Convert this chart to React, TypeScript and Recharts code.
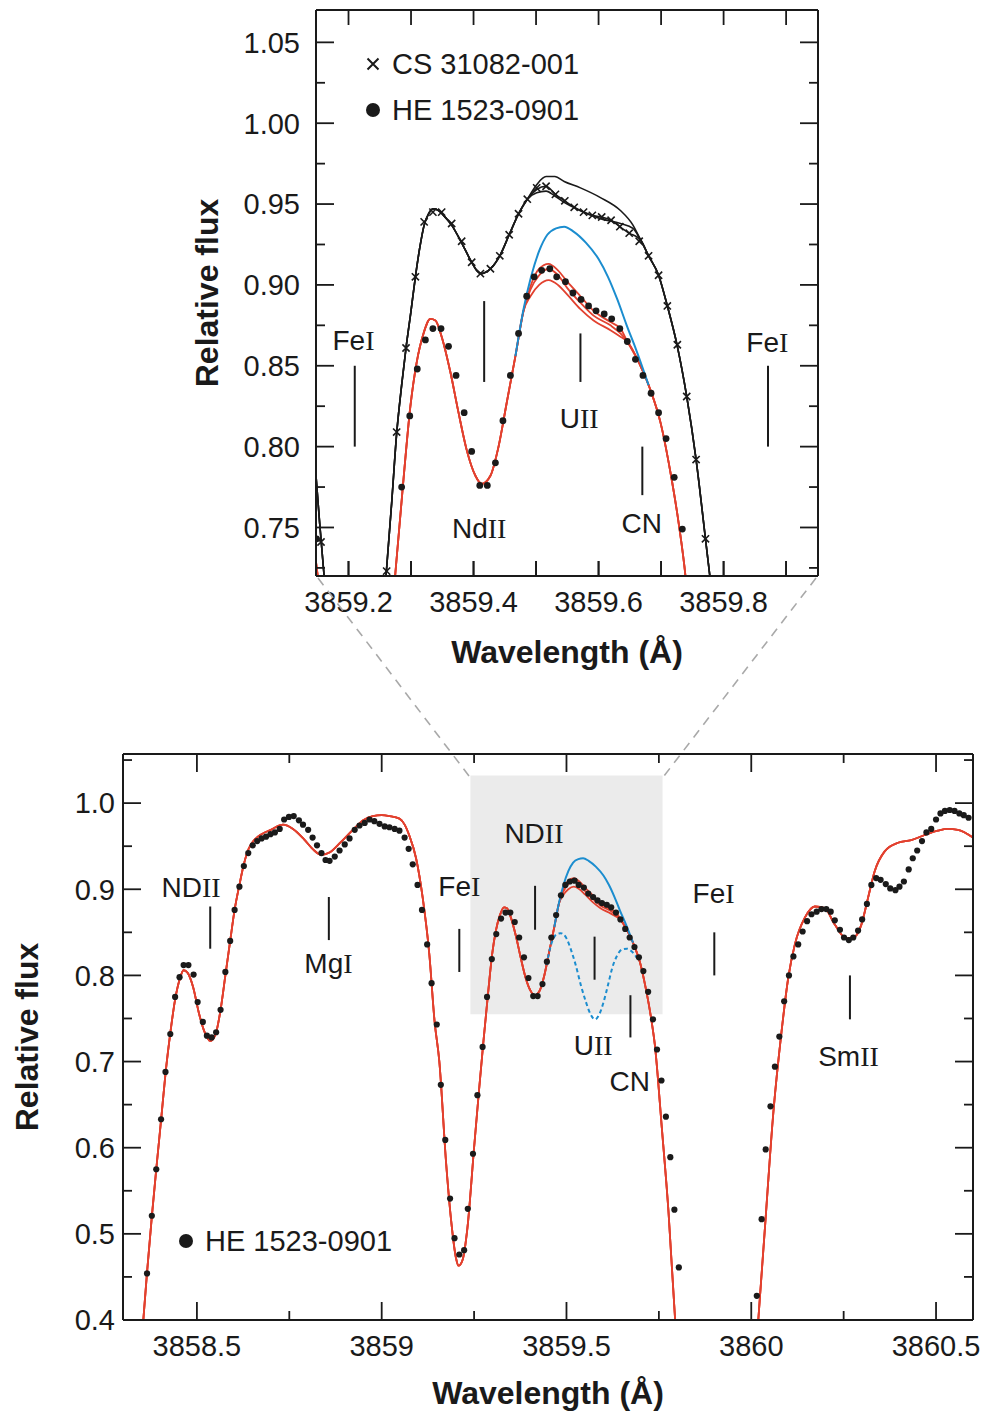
import React from 'react';
import { ComposedChart, Line, Scatter, XAxis, YAxis, ReferenceLine, ReferenceDot, ReferenceArea, Legend } from 'recharts';

const SANS = '"Liberation Sans", Arial, Helvetica, sans-serif';
const SERIF = '"Liberation Serif", "Times New Roman", serif';
const INK = '#1a1a1a';
const RED = '#e2412f';
const BLUE = '#1b8dcf';
const BOX = '#ebebeb';

type P = [number, number | null];

// HE 1523-0901, observed spectrum (dots)
const heFlux: P[] = [
  [3858.365, 0.454], [3858.378, 0.521], [3858.390, 0.575], [3858.403, 0.633], [3858.415, 0.688], [3858.428, 0.732],
  [3858.441, 0.775], [3858.453, 0.798], [3858.464, 0.812], [3858.477, 0.812], [3858.491, 0.801], [3858.502, 0.769],
  [3858.516, 0.746], [3858.527, 0.730], [3858.540, 0.728], [3858.552, 0.734], [3858.564, 0.760], [3858.577, 0.804],
  [3858.590, 0.840], [3858.602, 0.876], [3858.615, 0.903], [3858.627, 0.927], [3858.639, 0.942], [3858.651, 0.951],
  [3858.663, 0.956], [3858.675, 0.959], [3858.687, 0.961], [3858.699, 0.964], [3858.711, 0.966], [3858.724, 0.970],
  [3858.736, 0.981], [3858.749, 0.984], [3858.762, 0.985], [3858.776, 0.980], [3858.787, 0.975], [3858.801, 0.969],
  [3858.813, 0.960], [3858.825, 0.951], [3858.837, 0.942], [3858.848, 0.934], [3858.859, 0.933], [3858.873, 0.938],
  [3858.886, 0.945], [3858.900, 0.952], [3858.913, 0.959], [3858.927, 0.969], [3858.940, 0.974], [3858.954, 0.977],
  [3858.967, 0.981], [3858.980, 0.979], [3858.994, 0.976], [3859.008, 0.973], [3859.021, 0.972], [3859.035, 0.970],
  [3859.048, 0.968], [3859.062, 0.960], [3859.073, 0.947], [3859.084, 0.929], [3859.097, 0.905], [3859.109, 0.876],
  [3859.123, 0.836], [3859.135, 0.791], [3859.149, 0.743], [3859.160, 0.673], [3859.172, 0.609], [3859.185, 0.541],
  [3859.197, 0.495], [3859.210, 0.476], [3859.223, 0.481], [3859.233, 0.529], [3859.247, 0.593], [3859.259, 0.661],
  [3859.273, 0.717], [3859.285, 0.775], [3859.298, 0.819], [3859.310, 0.848], [3859.323, 0.866], [3859.335, 0.873],
  [3859.348, 0.873], [3859.360, 0.862], [3859.372, 0.844], [3859.385, 0.821], [3859.397, 0.797], [3859.410, 0.776],
  [3859.422, 0.776], [3859.435, 0.790], [3859.447, 0.816], [3859.459, 0.844], [3859.472, 0.870], [3859.485, 0.893],
  [3859.497, 0.905], [3859.509, 0.909], [3859.522, 0.910], [3859.533, 0.905], [3859.547, 0.902], [3859.559, 0.895],
  [3859.572, 0.891], [3859.584, 0.887], [3859.596, 0.884], [3859.609, 0.882], [3859.621, 0.879], [3859.634, 0.873],
  [3859.646, 0.865], [3859.659, 0.854], [3859.671, 0.844], [3859.684, 0.833], [3859.696, 0.821], [3859.708, 0.805],
  [3859.721, 0.781], [3859.734, 0.749], [3859.745, 0.714], [3859.757, 0.678], [3859.769, 0.636], [3859.781, 0.589],
  [3859.792, 0.528], [3859.804, 0.461],
  [3860.015, 0.428], [3860.028, 0.517], [3860.039, 0.598], [3860.052, 0.648], [3860.064, 0.694], [3860.076, 0.729],
  [3860.089, 0.770], [3860.102, 0.800], [3860.114, 0.822], [3860.127, 0.836], [3860.139, 0.851], [3860.151, 0.863],
  [3860.163, 0.871], [3860.177, 0.874], [3860.190, 0.877], [3860.203, 0.877], [3860.215, 0.874], [3860.226, 0.864],
  [3860.240, 0.853], [3860.251, 0.844], [3860.264, 0.841], [3860.276, 0.844], [3860.289, 0.852], [3860.300, 0.865],
  [3860.313, 0.883], [3860.325, 0.905], [3860.338, 0.913], [3860.350, 0.911], [3860.364, 0.906], [3860.376, 0.901],
  [3860.390, 0.899], [3860.401, 0.903], [3860.413, 0.909], [3860.426, 0.923], [3860.437, 0.936], [3860.449, 0.945],
  [3860.462, 0.956], [3860.474, 0.966], [3860.487, 0.970], [3860.500, 0.981], [3860.512, 0.988], [3860.524, 0.991],
  [3860.537, 0.992], [3860.550, 0.991], [3860.563, 0.988], [3860.575, 0.986], [3860.588, 0.983],
];

// CS 31082-001, observed spectrum (crosses)
const csFlux: P[] = [
  [3859.156, 0.741], [3859.261, 0.723], [3859.277, 0.809], [3859.292, 0.861], [3859.307, 0.905], [3859.321, 0.939],
  [3859.335, 0.945], [3859.349, 0.945], [3859.365, 0.938], [3859.381, 0.927], [3859.397, 0.914], [3859.411, 0.907],
  [3859.427, 0.910], [3859.442, 0.918], [3859.457, 0.931], [3859.472, 0.944], [3859.486, 0.953], [3859.501, 0.960],
  [3859.516, 0.961], [3859.531, 0.956], [3859.546, 0.952], [3859.561, 0.948], [3859.576, 0.945], [3859.590, 0.943],
  [3859.605, 0.942], [3859.620, 0.940], [3859.634, 0.936], [3859.649, 0.932], [3859.665, 0.927], [3859.680, 0.918],
  [3859.696, 0.906], [3859.710, 0.887], [3859.726, 0.863], [3859.741, 0.831], [3859.756, 0.792], [3859.771, 0.743],
];

// synthetic fits for HE 1523-0901 (red), shared wings + three U abundances at the peak
const redFitLeft: P[] = [
  [3858.355, 0.400], [3858.365, 0.455], [3858.378, 0.520], [3858.390, 0.575], [3858.403, 0.632], [3858.415, 0.686],
  [3858.428, 0.733], [3858.441, 0.772], [3858.453, 0.795], [3858.464, 0.806], [3858.475, 0.803], [3858.490, 0.786],
  [3858.505, 0.757], [3858.520, 0.735], [3858.536, 0.724], [3858.550, 0.731], [3858.564, 0.760], [3858.577, 0.800],
  [3858.590, 0.840], [3858.602, 0.876], [3858.615, 0.905], [3858.627, 0.929], [3858.640, 0.947], [3858.655, 0.957],
  [3858.675, 0.964], [3858.700, 0.969], [3858.733, 0.975], [3858.760, 0.970], [3858.790, 0.958], [3858.815, 0.946],
  [3858.837, 0.940], [3858.860, 0.943], [3858.890, 0.955], [3858.922, 0.969], [3858.950, 0.980], [3858.976, 0.985],
  [3859.000, 0.986], [3859.021, 0.985], [3859.048, 0.982], [3859.062, 0.975], [3859.075, 0.962], [3859.093, 0.936],
  [3859.111, 0.890], [3859.129, 0.824], [3859.143, 0.747], [3859.156, 0.700], [3859.174, 0.584], [3859.188, 0.515],
  [3859.201, 0.472], [3859.208, 0.463], [3859.219, 0.470], [3859.232, 0.507], [3859.250, 0.600], [3859.263, 0.665],
  [3859.275, 0.722], [3859.288, 0.780], [3859.299, 0.825], [3859.309, 0.852], [3859.320, 0.870], [3859.331, 0.879],
  [3859.339, 0.878], [3859.349, 0.868], [3859.363, 0.846], [3859.376, 0.821], [3859.389, 0.798], [3859.403, 0.782],
  [3859.413, 0.777], [3859.427, 0.782], [3859.440, 0.800], [3859.453, 0.827], [3859.467, 0.856], [3859.480, 0.884],
];
const redPeakHigh: P[] = [
  [3859.491, 0.899], [3859.505, 0.910], [3859.520, 0.913], [3859.535, 0.909], [3859.550, 0.902], [3859.571, 0.893],
  [3859.592, 0.884], [3859.619, 0.877], [3859.635, 0.873],
];
const redPeakMid: P[] = [
  [3859.491, 0.897], [3859.505, 0.906], [3859.520, 0.910], [3859.535, 0.906], [3859.550, 0.898], [3859.571, 0.889],
  [3859.592, 0.881], [3859.619, 0.875], [3859.635, 0.870],
];
const redPeakLow: P[] = [
  [3859.491, 0.893], [3859.505, 0.900], [3859.520, 0.903], [3859.535, 0.900], [3859.550, 0.894], [3859.571, 0.885],
  [3859.592, 0.878], [3859.619, 0.872], [3859.635, 0.868],
];
const redFitRight: P[] = [
  [3859.646, 0.865], [3859.667, 0.850], [3859.683, 0.835], [3859.699, 0.815], [3859.715, 0.784], [3859.728, 0.753],
  [3859.739, 0.720], [3859.758, 0.623], [3859.776, 0.526], [3859.794, 0.400], [3859.900, null],
  [3860.019, 0.400], [3860.037, 0.507], [3860.060, 0.642], [3860.082, 0.735], [3860.100, 0.797], [3860.118, 0.836],
  [3860.145, 0.867], [3860.172, 0.880], [3860.199, 0.878], [3860.226, 0.859], [3860.257, 0.843], [3860.280, 0.845],
  [3860.298, 0.859], [3860.316, 0.890], [3860.334, 0.921], [3860.361, 0.944], [3860.397, 0.954], [3860.433, 0.957],
  [3860.469, 0.963], [3860.505, 0.968], [3860.532, 0.970], [3860.559, 0.969], [3860.600, 0.960],
];

// fit without uranium (solid blue) and uranium line alone (dashed blue)
const noUranium: P[] = [
  [3859.467, 0.856], [3859.480, 0.885], [3859.492, 0.905], [3859.505, 0.921], [3859.518, 0.931], [3859.532, 0.935],
  [3859.545, 0.936], [3859.560, 0.933], [3859.580, 0.926], [3859.600, 0.916], [3859.615, 0.905], [3859.630, 0.891],
  [3859.645, 0.875], [3859.660, 0.860], [3859.680, 0.838],
];
const uraniumOnly: P[] = [
  [3859.446, 0.812], [3859.460, 0.838], [3859.474, 0.848], [3859.485, 0.849], [3859.500, 0.843], [3859.512, 0.830],
  [3859.525, 0.812], [3859.540, 0.787], [3859.552, 0.770], [3859.565, 0.755], [3859.577, 0.749], [3859.589, 0.755],
  [3859.601, 0.770], [3859.613, 0.790], [3859.624, 0.809], [3859.637, 0.823], [3859.650, 0.830], [3859.664, 0.831],
  [3859.676, 0.828], [3859.690, 0.821],
];

// synthetic fits for CS 31082-001 (black)
const csFitLeft: P[] = [
  [3859.148, 0.782], [3859.154, 0.752], [3859.161, 0.720], [3859.200, null],
  [3859.260, 0.720], [3859.269, 0.765], [3859.277, 0.808], [3859.285, 0.838], [3859.292, 0.861], [3859.300, 0.884],
  [3859.307, 0.905], [3859.314, 0.923], [3859.321, 0.937], [3859.328, 0.944], [3859.336, 0.947], [3859.344, 0.946],
  [3859.352, 0.943], [3859.365, 0.937], [3859.381, 0.926], [3859.397, 0.914], [3859.405, 0.909], [3859.413, 0.907],
  [3859.420, 0.908], [3859.427, 0.910], [3859.442, 0.918], [3859.457, 0.931], [3859.472, 0.944], [3859.486, 0.953],
];
const csPeakHigh: P[] = [
  [3859.501, 0.962], [3859.516, 0.967], [3859.530, 0.967], [3859.545, 0.964], [3859.571, 0.960], [3859.603, 0.954],
  [3859.635, 0.946], [3859.655, 0.937],
];
const csPeakMid: P[] = [
  [3859.501, 0.959], [3859.516, 0.961], [3859.531, 0.956], [3859.546, 0.952], [3859.561, 0.948], [3859.576, 0.945],
  [3859.590, 0.943], [3859.605, 0.942], [3859.620, 0.940], [3859.634, 0.936], [3859.649, 0.932],
];
const csPeakLow: P[] = [
  [3859.501, 0.957], [3859.516, 0.958], [3859.530, 0.955], [3859.545, 0.951], [3859.571, 0.946], [3859.603, 0.941],
  [3859.635, 0.938], [3859.655, 0.935],
];
const csFitRight: P[] = [
  [3859.667, 0.928], [3859.680, 0.918], [3859.696, 0.906], [3859.710, 0.887], [3859.726, 0.862], [3859.741, 0.831],
  [3859.756, 0.792], [3859.771, 0.743], [3859.778, 0.720],
];

// line identifications
type Mark = { x: number; y1: number; y2: number };
type Tag = { x: number; y: number; base: string; roman: string };
const topMarks: Mark[] = [
  { x: 3859.210, y1: 0.800, y2: 0.850 },
  { x: 3859.417, y1: 0.840, y2: 0.890 },
  { x: 3859.571, y1: 0.840, y2: 0.870 },
  { x: 3859.670, y1: 0.770, y2: 0.800 },
  { x: 3859.871, y1: 0.800, y2: 0.850 },
];
const topTags: Tag[] = [
  { x: 3859.208, y: 0.866, base: 'Fe', roman: 'I' },
  { x: 3859.409, y: 0.750, base: 'Nd', roman: 'II' },
  { x: 3859.569, y: 0.818, base: 'U', roman: 'II' },
  { x: 3859.669, y: 0.753, base: 'CN', roman: '' },
  { x: 3859.870, y: 0.865, base: 'Fe', roman: 'I' },
];
const botMarks: Mark[] = [
  { x: 3858.536, y1: 0.831, y2: 0.880 },
  { x: 3858.857, y1: 0.841, y2: 0.891 },
  { x: 3859.210, y1: 0.804, y2: 0.854 },
  { x: 3859.415, y1: 0.853, y2: 0.904 },
  { x: 3859.576, y1: 0.795, y2: 0.845 },
  { x: 3859.673, y1: 0.728, y2: 0.777 },
  { x: 3859.900, y1: 0.800, y2: 0.850 },
  { x: 3860.267, y1: 0.749, y2: 0.800 },
];
const botTags: Tag[] = [
  { x: 3858.484, y: 0.903, base: 'ND', roman: 'II' },
  { x: 3858.856, y: 0.814, base: 'Mg', roman: 'I' },
  { x: 3859.412, y: 0.965, base: 'ND', roman: 'II' },
  { x: 3859.210, y: 0.904, base: 'Fe', roman: 'I' },
  { x: 3859.572, y: 0.719, base: 'U', roman: 'II' },
  { x: 3859.671, y: 0.678, base: 'CN', roman: '' },
  { x: 3859.898, y: 0.896, base: 'Fe', roman: 'I' },
  { x: 3860.263, y: 0.707, base: 'Sm', roman: 'II' },
];
const zoomBox = { x1: 3859.24, x2: 3859.76, y1: 0.755, y2: 1.032 };

// axes
const topXDomain: [number, number] = [3859.148, 3859.951];
const topYDomain: [number, number] = [0.72, 1.07];
const topXTicks = [3859.2, 3859.3, 3859.4, 3859.5, 3859.6, 3859.7, 3859.8, 3859.9];
const topXLabels = [3859.2, 3859.4, 3859.6, 3859.8];
const topYTicks = [0.75, 0.8, 0.85, 0.9, 0.95, 1.0, 1.05];
const topYMinor = [0.725, 0.775, 0.825, 0.875, 0.925, 0.975, 1.025];

const botXDomain: [number, number] = [3858.3, 3860.6];
const botYDomain: [number, number] = [0.4, 1.057];
const botXTicks = [3858.5, 3859, 3859.5, 3860, 3860.5];
const botXMinor = [3858.75, 3859.25, 3859.75, 3860.25];
const botYTicks = [0.4, 0.5, 0.6, 0.7, 0.8, 0.9, 1.0];
const botYMinor = [0.45, 0.55, 0.65, 0.75, 0.85, 0.95, 1.05];

const topLegend = [
  { name: 'CS 31082-001', mark: 'cross' },
  { name: 'HE 1523-0901', mark: 'dot' },
];
const botLegend = [{ name: 'HE 1523-0901', mark: 'dot' }];

const pts = (a: P[]) => a.map(([x, y]) => ({ x, y }));
const inside = (a: P[], xd: [number, number], yd: [number, number]) =>
  pts(a.filter(([x, y]) => y !== null && x >= xd[0] && x <= xd[1] && y >= yd[0] && y <= yd[1]));

const redFits = [redPeakHigh, redPeakMid, redPeakLow].map((p) => pts([...redFitLeft, ...p, ...redFitRight]));
const csFits = [csPeakHigh, csPeakMid, csPeakLow].map((p) => pts([...csFitLeft, ...p, ...csFitRight]));

const tickFont = { fontSize: 29, fill: INK, fontFamily: SANS };
const tickPen = { stroke: INK, strokeWidth: 1.8 };
const boxPen = { stroke: INK, strokeWidth: 2 };

const dotShape = (r: number) => (p: any) => <circle cx={p.cx} cy={p.cy} r={r} fill={INK} />;
const crossShape = (p: any) => {
  const s = 3.6;
  return (
    <path
      d={`M${p.cx - s},${p.cy - s}L${p.cx + s},${p.cy + s}M${p.cx - s},${p.cy + s}L${p.cx + s},${p.cy - s}`}
      stroke={INK}
      strokeWidth={1.6}
      fill="none"
    />
  );
};
const NoTick = () => <g />;

const SpecLabel = (props: any) => {
  const vb = props.viewBox || {};
  const cx = (vb.x ?? 0) + (vb.width ?? 0) / 2;
  const cy = (vb.y ?? 0) + (vb.height ?? 0) / 2;
  return (
    <text x={cx} y={cy} dy="0.36em" textAnchor="middle" fontSize={28} fill={INK} fontFamily={SANS}>
      <tspan>{props.base}</tspan>
      {props.roman ? <tspan fontFamily={SERIF}>{props.roman}</tspan> : null}
    </text>
  );
};

const YTitle = (props: any) => {
  const vb = props.viewBox || {};
  const cx = vb.x + vb.width + props.shift;
  const cy = vb.y + vb.height / 2;
  return (
    <text x={cx} y={cy} dy="0.36em" transform={`rotate(-90 ${cx} ${cy})`} textAnchor="middle"
      fontSize={32} fontWeight="bold" fill={INK} fontFamily={SANS}>
      Relative flux
    </text>
  );
};

const XTitle = (props: any) => {
  const vb = props.viewBox || {};
  const cx = vb.x + vb.width / 2;
  const cy = vb.y + props.shift;
  return (
    <text x={cx} y={cy} dy="0.36em" textAnchor="middle" fontSize={32} fontWeight="bold" fill={INK} fontFamily={SANS}>
      Wavelength (Å)
    </text>
  );
};

const LegendBox = ({ items }: { items: { name: string; mark: string }[] }) => (
  <div style={{ fontFamily: SANS, fontSize: 29, color: INK }}>
    {items.map((it) => (
      <div key={it.name} style={{ display: 'flex', alignItems: 'center', height: 46 }}>
        <svg width={20} height={20}>
          {it.mark === 'dot' ? (
            <circle cx={10} cy={10} r={7} fill={INK} />
          ) : (
            <path d="M4.5,4.5L15.5,15.5M4.5,15.5L15.5,4.5" stroke={INK} strokeWidth={2} />
          )}
        </svg>
        <span style={{ marginLeft: 9, lineHeight: 1, whiteSpace: 'nowrap' }}>{it.name}</span>
      </div>
    ))}
  </div>
);

const THIN = 0.01;

// inward x ticks: thin axes with negative tick size
const xTickAxis = (id: string, o: 'top' | 'bottom', domain: [number, number], ticks: number[], len: number,
  line: boolean) => (
  <XAxis key={id} xAxisId={id} dataKey="x" orientation={o} type="number" domain={domain} allowDataOverflow
    ticks={ticks} interval={0} tick={NoTick} tickLine={tickPen} tickSize={-len} axisLine={line ? boxPen : false}
    height={THIN} />
);
// inward y ticks: mirrored thin axes
const yTickAxis = (id: string, o: 'left' | 'right', domain: [number, number], ticks: number[], len: number,
  line: boolean) => (
  <YAxis key={id} yAxisId={id} dataKey="y" orientation={o} mirror type="number" domain={domain} allowDataOverflow
    ticks={ticks} interval={0} tick={NoTick} tickLine={tickPen} tickSize={len} axisLine={line ? boxPen : false}
    width={THIN} />
);

const marksAndTags = (marks: Mark[], tags: Tag[]) => [
  ...marks.map((m, i) => (
    <ReferenceLine key={`m${i}`} xAxisId="x" yAxisId="y" segment={[{ x: m.x, y: m.y1 }, { x: m.x, y: m.y2 }]}
      stroke={INK} strokeWidth={2} />
  )),
  ...tags.map((t, i) => (
    <ReferenceDot key={`t${i}`} xAxisId="x" yAxisId="y" x={t.x} y={t.y} r={1} fill="none" stroke="none"
      label={<SpecLabel base={t.base} roman={t.roman} />} />
  )),
];

export default function App() {
  return (
    <div style={{ position: 'absolute', left: 0, top: 0, width: 985, height: 1414, background: '#fff' }}>
      <div style={{ position: 'absolute', left: 0, top: 0 }}>
        <ComposedChart width={830} height={680} margin={{ top: 10, right: 12, bottom: 4, left: 246 }}>
          {xTickAxis('tb', 'bottom', topXDomain, topXTicks, 15, true)}
          {xTickAxis('tt', 'top', topXDomain, topXTicks, 15, true)}
          {yTickAxis('tlM', 'left', topYDomain, topYTicks, 18, true)}
          {yTickAxis('tlm', 'left', topYDomain, topYMinor, 9, false)}
          {yTickAxis('trM', 'right', topYDomain, topYTicks, 18, true)}
          {yTickAxis('trm', 'right', topYDomain, topYMinor, 9, false)}
          <XAxis xAxisId="x" dataKey="x" type="number" domain={topXDomain} allowDataOverflow ticks={topXTicks}
            interval={0} tickFormatter={(v: number) => (topXLabels.some((l) => Math.abs(l - v) < 1e-6) ? v.toFixed(1) : '')}
            tick={tickFont} tickLine={tickPen} tickSize={-15} tickMargin={30} axisLine={false} height={100}
            label={<XTitle shift={75} />} />
          <YAxis yAxisId="y" dataKey="y" type="number" domain={topYDomain} allowDataOverflow ticks={topYTicks}
            interval={0} tickFormatter={(v: number) => v.toFixed(2)} tick={tickFont} tickLine={false} tickSize={0}
            tickMargin={16} axisLine={false} width={70} label={<YTitle shift={-110} />} />
          {marksAndTags(topMarks, topTags)}
          {csFits.map((d, i) => (
            <Line key={`cs${i}`} xAxisId="x" yAxisId="y" data={d} dataKey="y" type="monotone" stroke={INK}
              strokeWidth={1.6} dot={false} activeDot={false} legendType="none" isAnimationActive={false} />
          ))}
          <Scatter name="CS 31082-001" xAxisId="x" yAxisId="y" data={inside(csFlux, topXDomain, topYDomain)}
            shape={crossShape} isAnimationActive={false} />
          {redFits.map((d, i) => (
            <Line key={`rf${i}`} xAxisId="x" yAxisId="y" data={d} dataKey="y" type="monotone" stroke={RED}
              strokeWidth={1.8} dot={false} activeDot={false} legendType="none" isAnimationActive={false} />
          ))}
          <Line xAxisId="x" yAxisId="y" data={pts(noUranium)} dataKey="y" type="monotone" stroke={BLUE}
            strokeWidth={2} dot={false} activeDot={false} legendType="none" isAnimationActive={false} />
          <Scatter name="HE 1523-0901" xAxisId="x" yAxisId="y" data={inside(heFlux, topXDomain, topYDomain)}
            shape={dotShape(3.4)} isAnimationActive={false} />
          <Legend layout="vertical" align="center" verticalAlign="middle"
            wrapperStyle={{ left: 363, top: 41, width: 'auto' }}
            content={() => <LegendBox items={topLegend} />} />
        </ComposedChart>
      </div>

      <div style={{ position: 'absolute', left: 0, top: 700 }}>
        <ComposedChart width={985} height={714} margin={{ top: 54, right: 12, bottom: 0, left: 63 }}>
          {xTickAxis('bbm', 'bottom', botXDomain, botXMinor, 9, true)}
          {xTickAxis('btM', 'top', botXDomain, botXTicks, 18, true)}
          {xTickAxis('btm', 'top', botXDomain, botXMinor, 9, false)}
          {yTickAxis('blM', 'left', botYDomain, botYTicks, 18, true)}
          {yTickAxis('blm', 'left', botYDomain, botYMinor, 9, false)}
          {yTickAxis('brM', 'right', botYDomain, botYTicks, 18, true)}
          {yTickAxis('brm', 'right', botYDomain, botYMinor, 9, false)}
          <XAxis xAxisId="x" dataKey="x" type="number" domain={botXDomain} allowDataOverflow ticks={botXTicks}
            interval={0} tickFormatter={(v: number) => String(v)} tick={tickFont} tickLine={tickPen} tickSize={-18}
            tickMargin={33} axisLine={false} height={94} label={<XTitle shift={72} />} />
          <YAxis yAxisId="y" dataKey="y" type="number" domain={botYDomain} allowDataOverflow ticks={botYTicks}
            interval={0} tickFormatter={(v: number) => v.toFixed(1)} tick={tickFont} tickLine={false} tickSize={0}
            tickMargin={8} axisLine={false} width={60} label={<YTitle shift={-97} />} />
          <ReferenceArea xAxisId="x" yAxisId="y" x1={zoomBox.x1} x2={zoomBox.x2} y1={zoomBox.y1} y2={zoomBox.y2}
            fill={BOX} fillOpacity={1} stroke="none" />
          {marksAndTags(botMarks, botTags)}
          {redFits.map((d, i) => (
            <Line key={`rb${i}`} xAxisId="x" yAxisId="y" data={d} dataKey="y" type="monotone" stroke={RED}
              strokeWidth={1.8} dot={false} activeDot={false} legendType="none" isAnimationActive={false} />
          ))}
          <Line xAxisId="x" yAxisId="y" data={pts(noUranium)} dataKey="y" type="monotone" stroke={BLUE}
            strokeWidth={2} dot={false} activeDot={false} legendType="none" isAnimationActive={false} />
          <Line xAxisId="x" yAxisId="y" data={pts(uraniumOnly)} dataKey="y" type="monotone" stroke={BLUE}
            strokeWidth={2} strokeDasharray="4 3" dot={false} activeDot={false} legendType="none"
            isAnimationActive={false} />
          <Scatter name="HE 1523-0901" xAxisId="x" yAxisId="y" data={inside(heFlux, botXDomain, botYDomain)}
            shape={dotShape(3.1)} isAnimationActive={false} />
          <Legend layout="vertical" align="center" verticalAlign="middle"
            wrapperStyle={{ left: 176, top: 518, width: 'auto' }}
            content={() => <LegendBox items={botLegend} />} />
        </ComposedChart>
      </div>

      <svg width={985} height={1414} style={{ position: 'absolute', left: 0, top: 0, pointerEvents: 'none' }}>
        <line x1={318} y1={578} x2={469} y2={776} stroke="#a9a9a9" strokeWidth={1.6} strokeDasharray="9 7" />
        <line x1={816} y1={578} x2={664} y2={776} stroke="#a9a9a9" strokeWidth={1.6} strokeDasharray="9 7" />
      </svg>
    </div>
  );
}
